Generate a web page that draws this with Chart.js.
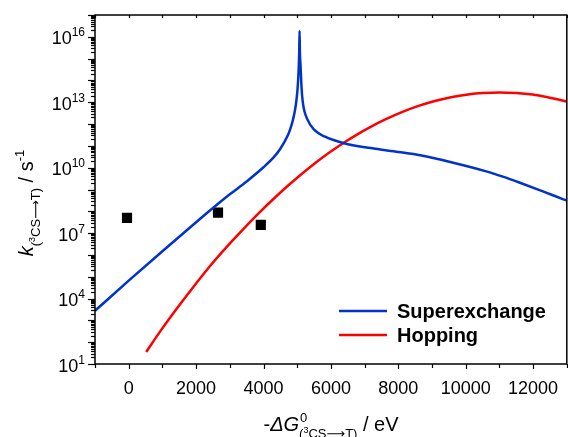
<!DOCTYPE html>
<html>
<head>
<meta charset="utf-8">
<script src="https://cdn.jsdelivr.net/npm/chart.js@4.4.1/dist/chart.umd.min.js"></script>
<style>
  html, body { margin: 0; padding: 0; background: #fff; overflow: hidden; }
  #wrap { position: relative; width: 574px; height: 437px; }
</style>
</head>
<body>
<div id="wrap"><canvas id="rateChart"></canvas></div>
<script>
// driving force (eV) and rate (s^-1) for each model
const superExGap = [-1000, 0, 1000, 2000, 2500, 3000, 3500, 4000, 4300, 4500, 4730, 4800, 4870, 4930, 4970, 5010, 5040, 5060, 5070,
  5080, 5100, 5130, 5170, 5310, 5510, 5810, 6390, 7180, 8000, 8650, 9630, 10610, 11100, 11590, 12250, 12900, 13000]
const superExRate = [2.75e3, 6.6e4, 1.48e6, 3.16e7, 1.41e8, 6.0e8, 2.35e9, 1.05e10, 2.95e10, 7.4e10, 3.2e11, 6.3e11, 1.48e12, 4.0e12, 1.0e13, 4.0e13, 2.5e14, 2.0e15, 1.86e16,
  2.0e15, 4.5e14, 4.5e13, 9.1e12, 1.55e12, 5.4e11, 2.7e11, 1.32e11, 7.9e10, 5.25e10, 3.7e10, 1.7e10, 6.8e9, 3.9e9, 2.1e9, 8.7e8, 3.55e8, 3.1e8]

const hoppingGap = [520, 950, 1440, 1930, 2420, 2910, 3400, 3890, 4380, 4870, 5760, 6440, 6800, 7180, 7600, 8160,
  8600, 9140, 9600, 10120, 10500, 11000, 11500, 11980, 12400, 12900, 13000]
const hoppingRate = [35.5, 339, 3.7e3, 3.6e4, 3.2e5, 2.35e6, 1.51e7, 9.1e7, 4.9e8, 2.34e9, 3.0e10, 1.58e11, 3.47e11, 7.4e11, 1.58e12, 3.8e12,
  6.8e12, 1.2e13, 1.74e13, 2.34e13, 2.63e13, 2.82e13, 2.63e13, 2.24e13, 1.74e13, 1.17e13, 1.07e13]

// measured rates
const expGap = [-50, 2650, 3920]
const expRate = [5.0e7, 8.7e7, 2.4e7]

const xTickLabels = [0, 2000, 4000, 6000, 8000, 10000, 12000]
const yLabelExps = [1, 4, 7, 10, 13, 16]
const yDecades = [1, 2, 3, 4, 5, 6, 7, 8, 9, 10, 11, 12, 13, 14, 15, 16, 17]
const yMantissas = [2, 3, 4, 5, 6, 7, 8, 9]

const FONT = '"Liberation Sans", Arial, "DejaVu Sans", sans-serif'
const BLUE = '#0033cc'
const RED = '#ff0000'

const toPoints = (xs, ys) => xs.map((x, i) => ({ x, y: ys[i] }))

const setFont = (ctx, r) => {
  ctx.font = `${r.style || 'normal'} ${r.weight || 'normal'} ${r.size}px ${FONT}`
}

// draws a list of text runs side by side, each with its own size and shift
const drawRuns = (ctx, runs, x, y) => {
  runs.forEach(r => {
    setFont(ctx, r)
    ctx.fillText(r.t, x, y + (r.dy || 0))
    x += ctx.measureText(r.t).width
  })
  return x
}
const runsWidth = (ctx, runs) => runs.reduce((w, r) => {
  setFont(ctx, r)
  return w + ctx.measureText(r.t).width
}, 0)

// "(3CS -> T)" subscript, shared by both titles
const transitionSub = dy => [
  { t: '(', size: 13, dy },
  { t: '3', size: 9, dy: dy - 5 },
  { t: 'CS', size: 13, dy },
  { t: '\u27F6', size: 13, dy },
  { t: 'T)', size: 13, dy }
]

const axesPlugin = {
  id: 'axesPlugin',
  afterDatasetsDraw(chart) {
    const { ctx, chartArea: a, scales: { x, y } } = chart
    ctx.save()
    ctx.strokeStyle = '#000'
    ctx.fillStyle = '#000'
    ctx.lineWidth = 1.5

    // frame
    ctx.beginPath()
    ctx.rect(a.left, a.top, a.right - a.left, a.bottom - a.top)
    ctx.stroke()

    // x ticks every 1000, bottom outward, top inward
    ctx.lineWidth = 1.2
    for (let v = x.min; v <= x.max; v += 1000) {
      const px = Math.round(x.getPixelForValue(v)) + 0.5
      const len = v % 2000 === 0 ? 5 : 4
      ctx.beginPath()
      ctx.moveTo(px, a.bottom)
      ctx.lineTo(px, a.bottom + len)
      ctx.moveTo(px, a.top)
      ctx.lineTo(px, a.top + 3)
      ctx.stroke()
    }

    // y ticks: decades long, 2..9 short
    yDecades.forEach(d => {
      const py = Math.round(y.getPixelForValue(Math.pow(10, d))) + 0.5
      ctx.beginPath()
      ctx.moveTo(a.left, py)
      ctx.lineTo(a.left - 7, py)
      ctx.stroke()
      if (d === yDecades[yDecades.length - 1]) return
      yMantissas.forEach(m => {
        const pm = Math.round(y.getPixelForValue(m * Math.pow(10, d))) + 0.5
        ctx.beginPath()
        ctx.moveTo(a.left, pm)
        ctx.lineTo(a.left - 4, pm)
        ctx.stroke()
      })
    })

    // x tick labels
    ctx.font = `18px ${FONT}`
    ctx.textAlign = 'center'
    ctx.textBaseline = 'alphabetic'
    xTickLabels.forEach(v => {
      ctx.fillText(String(v), x.getPixelForValue(v), 394)
    })

    // y tick labels as 10^n
    ctx.textAlign = 'left'
    yLabelExps.forEach(e => {
      const py = y.getPixelForValue(Math.pow(10, e))
      ctx.font = `18px ${FONT}`
      const wb = ctx.measureText('10').width
      ctx.font = `12px ${FONT}`
      const we = ctx.measureText(String(e)).width
      const right = 85
      ctx.font = `18px ${FONT}`
      ctx.fillText('10', right - we - wb, py + 7.5)
      ctx.font = `12px ${FONT}`
      ctx.fillText(String(e), right - we, py - 0.5)
    })

    // x title: -ΔG^0_(3CS->T) / eV
    const head = [{ t: '-', size: 20 }, { t: '\u0394G', size: 20, style: 'italic' }]
    const sup = [{ t: '0', size: 13, dy: -9 }]
    const sub = transitionSub(7)
    const tail = [{ t: ' / eV', size: 20 }]
    const stackW = Math.max(runsWidth(ctx, sup), runsWidth(ctx, sub))
    const totalW = runsWidth(ctx, head) + stackW + runsWidth(ctx, tail)
    let tx = 331 - totalW / 2
    const ty = 431
    tx = drawRuns(ctx, head, tx, ty)
    drawRuns(ctx, sup, tx + 1, ty)
    drawRuns(ctx, sub, tx, ty)
    drawRuns(ctx, tail, tx + stackW, ty)

    // y title: k_(3CS->T) / s^-1, rotated
    const yRuns = [
      { t: 'k', size: 20, style: 'italic' },
      ...transitionSub(7),
      { t: ' / s', size: 20 },
      { t: '-1', size: 13, dy: -9 }
    ]
    const yw = runsWidth(ctx, yRuns)
    ctx.save()
    ctx.translate(33, 203)
    ctx.rotate(-Math.PI / 2)
    drawRuns(ctx, yRuns, -yw / 2, 0)
    ctx.restore()

    // legend
    const legend = [
      { label: 'Superexchange', color: BLUE, y: 311 },
      { label: 'Hopping', color: RED, y: 335 }
    ]
    ctx.textBaseline = 'middle'
    legend.forEach(item => {
      ctx.strokeStyle = item.color
      ctx.lineWidth = 2.5
      ctx.beginPath()
      ctx.moveTo(339, item.y)
      ctx.lineTo(387, item.y)
      ctx.stroke()
      ctx.font = `bold 20px ${FONT}`
      ctx.fillStyle = '#000'
      ctx.fillText(item.label, 397, item.y + 1)
    })

    ctx.restore()
  }
}

const hiddenAxis = {
  ticks: { display: false },
  grid: { display: false, drawTicks: false },
  border: { display: false }
}

new Chart(document.getElementById('rateChart'), {
  type: 'line',
  data: {
    datasets: [
      {
        label: 'Superexchange',
        data: toPoints(superExGap, superExRate),
        borderColor: BLUE,
        borderWidth: 2.5,
        pointRadius: 0,
        cubicInterpolationMode: 'monotone'
      },
      {
        label: 'Hopping',
        data: toPoints(hoppingGap, hoppingRate),
        borderColor: RED,
        borderWidth: 2.5,
        pointRadius: 0,
        cubicInterpolationMode: 'monotone'
      },
      {
        type: 'scatter',
        label: 'Experiment',
        data: toPoints(expGap, expRate),
        pointStyle: 'rect',
        pointRadius: 7.2,
        backgroundColor: '#000',
        borderColor: '#000',
        borderWidth: 0,
        showLine: false
      }
    ]
  },
  options: {
    responsive: true,
    maintainAspectRatio: false,
    animation: false,
    events: [],
    layout: { padding: { left: 95, right: 3, top: 15, bottom: 73 } },
    plugins: {
      legend: { display: false },
      tooltip: { enabled: false }
    },
    scales: {
      x: { type: 'linear', min: -1000, max: 13000, ...hiddenAxis },
      y: { type: 'logarithmic', min: 10, max: 1e17, ...hiddenAxis }
    }
  },
  plugins: [axesPlugin]
})
</script>
</body>
</html>
